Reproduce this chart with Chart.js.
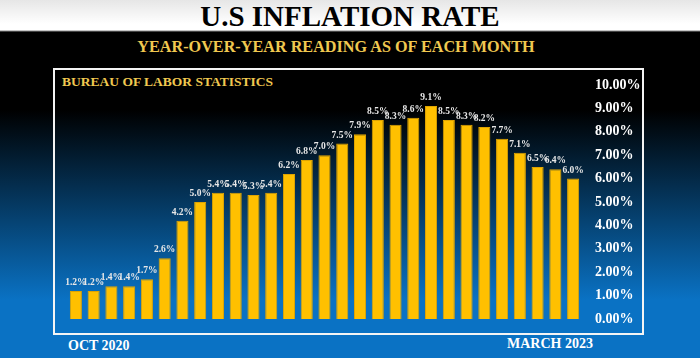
<!DOCTYPE html>
<html>
<head>
<meta charset="utf-8">
<script src="https://cdn.jsdelivr.net/npm/chart.js@4"></script>
<style>
  html, body { margin: 0; padding: 0; }
  body {
    width: 700px; height: 358px; position: relative; overflow: hidden;
    font-family: "Liberation Serif", "Times New Roman", serif; font-weight: bold;
    background: linear-gradient(to bottom, #e6e6e6 0px, #ffffff 24px, #ffffff 30px, #8a8a8a 31px, #000000 32px, #000000 110px, #0a72c4 300px, #0a72c4 358px);
  }
  .txt { position: absolute; line-height: 1; white-space: nowrap; }
  #title { top: 2px; left: 0; width: 700px; text-align: center; font-size: 29px; color: #000; }
  #sub { top: 39px; left: 0; width: 672px; text-align: center; font-size: 16.2px; color: #f0c850; }
  #src { top: 75px; left: 62px; font-size: 13.5px; color: #f0c850; }
  #first { top: 339px; left: 68px; font-size: 14px; color: #fff; }
  #last { top: 337px; left: 507px; font-size: 14px; color: #fff; }
  #box { position: absolute; left: 53px; top: 68px; width: 591px; height: 267px; box-sizing: border-box; border: 2px solid #f4f4f4; }
  #wrap { position: absolute; left: 0; top: 0; width: 700px; height: 358px; }
</style>
</head>
<body>
<div id="title" class="txt">U.S INFLATION RATE</div>
<div id="sub" class="txt">YEAR-OVER-YEAR READING AS OF EACH MONTH</div>
<div id="box"></div>
<div id="src" class="txt">BUREAU OF LABOR STATISTICS</div>
<div id="first" class="txt">OCT 2020</div>
<div id="last" class="txt">MARCH 2023</div>
<div id="wrap"><canvas id="chart" width="700" height="358"></canvas></div>
<script>
// monthly readings, Oct 2020 onwards
const months = ['Oct 2020','Nov 2020','Dec 2020','Jan 2021','Feb 2021','Mar 2021','Apr 2021','May 2021',
  'Jun 2021','Jul 2021','Aug 2021','Sep 2021','Oct 2021','Nov 2021','Dec 2021','Jan 2022','Feb 2022',
  'Mar 2022','Apr 2022','May 2022','Jun 2022','Jul 2022','Aug 2022','Sep 2022','Oct 2022','Nov 2022',
  'Dec 2022','Jan 2023','Feb 2023'];
const inflation = [1.2, 1.2, 1.4, 1.4, 1.7, 2.6, 4.2, 5.0, 5.4, 5.4, 5.3, 5.4, 6.2, 6.8, 7.0, 7.5, 7.9,
  8.5, 8.3, 8.6, 9.1, 8.5, 8.3, 8.2, 7.7, 7.1, 6.5, 6.4, 6.0];
const yMin = 0, yMax = 10, yStep = 1;

// value labels above each bar
const barLabels = {
  id: 'barLabels',
  afterDatasetsDraw(chart) {
    const ctx = chart.ctx;
    const meta = chart.getDatasetMeta(0);
    ctx.save();
    ctx.font = 'bold 9.5px "Liberation Serif"';
    ctx.fillStyle = '#e8e8e8';
    ctx.textAlign = 'center';
    ctx.textBaseline = 'alphabetic';
    meta.data.forEach((bar, i) => {
      ctx.fillText(inflation[i].toFixed(1) + '%', bar.x, bar.y - 6);
    });
    ctx.restore();
  }
};

new Chart(document.getElementById('chart'), {
  type: 'bar',
  data: {
    labels: months,
    datasets: [{
      data: inflation,
      backgroundColor: '#ffc000',
      borderColor: '#e0a400',
      borderWidth: 1,
      categoryPercentage: 1,
      barPercentage: 0.68
    }]
  },
  options: {
    responsive: false,
    animation: false,
    layout: { padding: { left: 67, right: 56, top: 85, bottom: 39 } },
    plugins: { legend: { display: false }, tooltip: { enabled: false } },
    scales: {
      x: { display: false },
      y: {
        position: 'right',
        min: yMin, max: yMax,
        grid: { display: false, drawTicks: false },
        border: { display: false },
        afterFit(scale) { scale.width = 62; },
        ticks: {
          stepSize: yStep,
          padding: 13,
          color: '#ffffff',
          font: { family: 'Liberation Serif', size: 14, weight: 'bold' },
          callback: v => v.toFixed(2) + '%'
        }
      }
    }
  },
  plugins: [barLabels]
});
</script>
</body>
</html>
